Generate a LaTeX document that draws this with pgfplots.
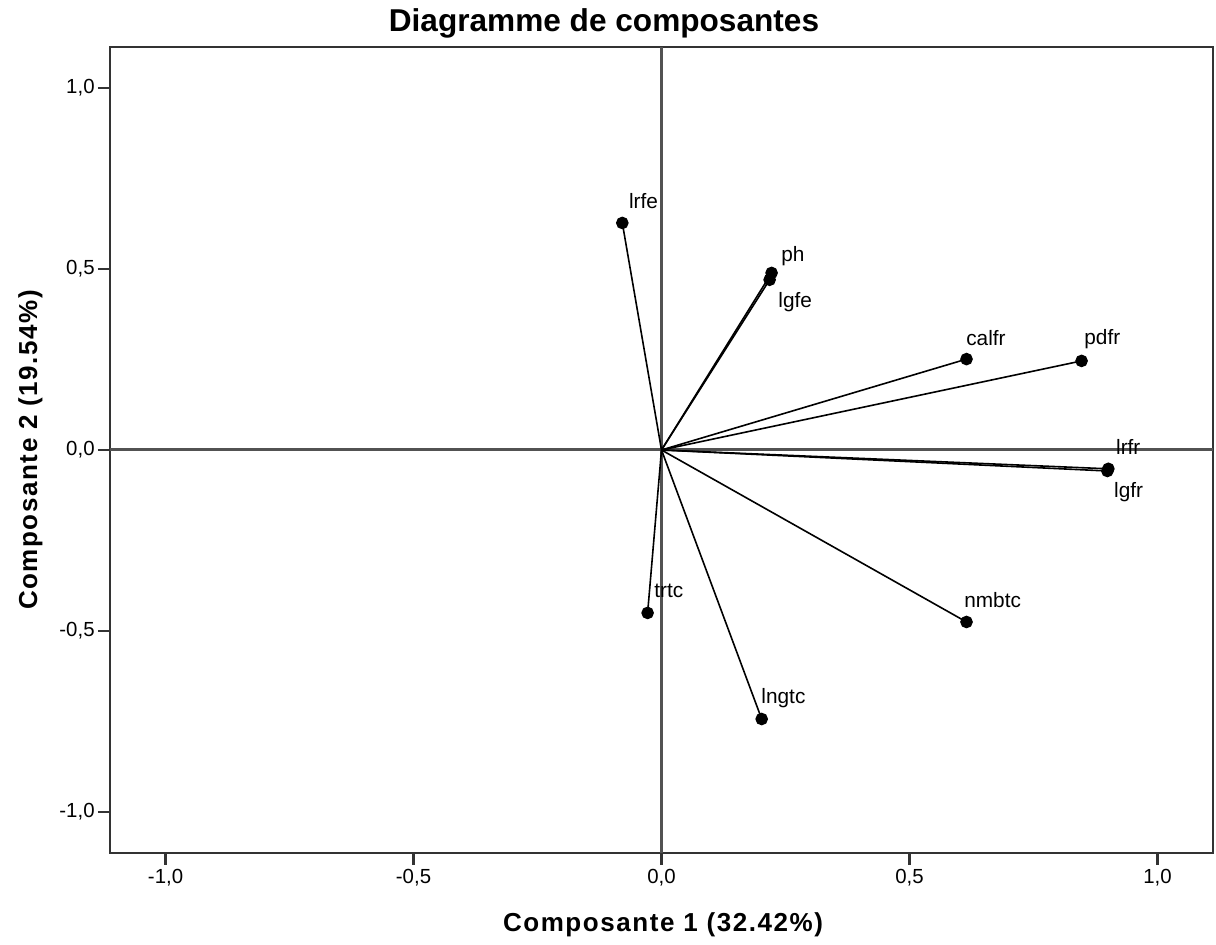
\documentclass[border=0pt]{standalone}
\usepackage{fontspec}
\setmainfont{Liberation Sans}
\newfontfamily\widebold[LetterSpace=6]{Liberation Sans}
\usepackage{pgfplots}
\pgfplotsset{compat=1.18}
\tikzset{
  lab/.style={font=\fontsize{10.4}{12}\selectfont, inner sep=0pt, anchor=base west},
  vec/.style={black, line width=0.8pt, mark=*, mark indices={2}, mark size=2.75pt, mark options={solid, fill=black}},
}
\begin{document}
\begin{tikzpicture}[x=1pt,y=1pt]
\path (0,0) rectangle (608,472.5);
\begin{axis}[at={(55pt,46pt)}, anchor=south west, scale only axis,
  width=551.5pt, height=403pt,
  xmin=-1.112, xmax=1.112, ymin=-1.113, ymax=1.113,
  xtick={-1,-0.5,0,0.5,1}, xticklabels={{-1,0},{-0,5},{0,0},{0,5},{1,0}},
  ytick={-1,-0.5,0,0.5,1}, yticklabels={{-1,0},{-0,5},{0,0},{0,5},{1,0}},
  tick align=outside, tick pos=left, major tick length=6pt,
  axis line style={black!80, line width=1pt},
  every tick/.style={black!80, line width=1.2pt},
  ticklabel style={font=\fontsize{10.2}{12}\selectfont},
  xticklabel style={inner sep=2pt},
  yticklabel style={inner sep=1.5pt},
  clip=false,
]
\addplot[black!68, line width=1.5pt] coordinates {(-1.112,0) (1.112,0)};
\addplot[black!68, line width=1.5pt] coordinates {(0,-1.113) (0,1.113)};
\addplot[vec] coordinates {(0,0) (-0.079,0.627)} node[pos=1, lab, xshift=3pt, yshift=7pt] {lrfe};
\addplot[vec] coordinates {(0,0) (0.218,0.470)} node[pos=1, lab, xshift=4pt, yshift=-14pt] {lgfe};
\addplot[vec] coordinates {(0,0) (0.222,0.489)} node[pos=1, lab, xshift=4.5pt, yshift=5.5pt] {ph};
\addplot[vec] coordinates {(0,0) (0.615,0.251)} node[pos=1, lab, xshift=-0.5pt, yshift=7pt] {calfr};
\addplot[vec] coordinates {(0,0) (0.847,0.246)} node[pos=1, lab, xshift=1pt, yshift=8pt] {pdfr};
\addplot[vec] coordinates {(0,0) (0.899,-0.058)} node[pos=1, lab, xshift=3pt, yshift=-13.5pt] {lgfr};
\addplot[vec] coordinates {(0,0) (0.901,-0.052)} node[pos=1, lab, xshift=3.5pt, yshift=7pt] {lrfr};
\addplot[vec] coordinates {(0,0) (0.615,-0.475)} node[pos=1, lab, xshift=-1.5pt, yshift=7pt] {nmbtc};
\addplot[vec] coordinates {(0,0) (-0.028,-0.450)} node[pos=1, lab, xshift=3pt, yshift=7.5pt] {trtc};
\addplot[vec] coordinates {(0,0) (0.202,-0.743)} node[pos=1, lab, xshift=-0.5pt, yshift=8pt] {lngtc};
\end{axis}
\node[anchor=base, inner sep=0pt] at (302,456.5) {\fontsize{15.8}{18}\selectfont\bfseries Diagramme de composantes};
\node[anchor=base, inner sep=0pt] at (331.5,6.5) {\widebold\fontsize{13}{15}\selectfont\bfseries Composante 1 (32.42\%)};
\node[anchor=base, inner sep=0pt, rotate=90] at (18.5,247.5) {\widebold\fontsize{13}{15}\selectfont\bfseries Composante 2 (19.54\%)};
\end{tikzpicture}
\end{document}
